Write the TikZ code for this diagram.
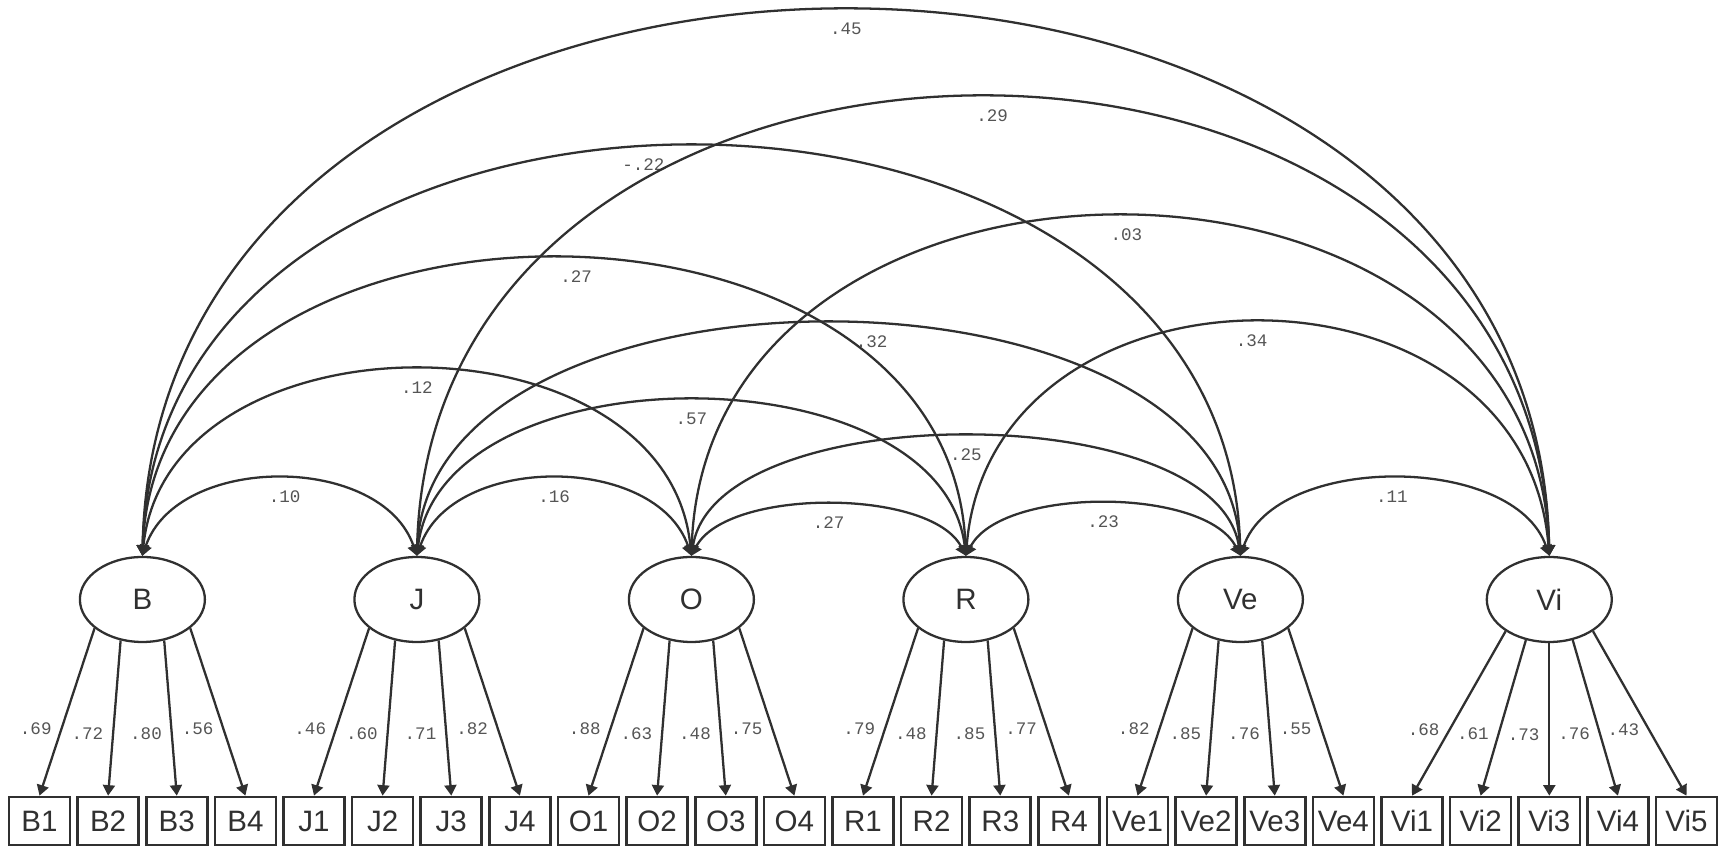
\documentclass[tikz,border=0pt]{standalone}
\usepackage{fontspec}
\setmainfont{Liberation Sans}
\newfontfamily\coeffont{Liberation Mono}
\usetikzlibrary{arrows.meta,shapes.geometric}

\definecolor{edgegray}{HTML}{303030}
\definecolor{coefgray}{HTML}{555555}

\begin{document}
\begin{tikzpicture}
    \tikzstyle{latent} = [ellipse, draw=edgegray, line width=0.65pt, minimum width=1.25cm, minimum height=0.85cm, inner sep=0pt, text=edgegray, font=\fontsize{8.4}{9}\selectfont]
    \tikzstyle{manifest} = [rectangle, draw=edgegray, line width=0.75pt, minimum width=0.61cm, minimum height=0.48cm, inner sep=0pt, text=edgegray, font=\fontsize{8.4}{9}\selectfont]
    \tikzstyle{loading} = [-{Triangle[length=3pt,width=3.4pt]}, draw=edgegray, line width=0.65pt]
    \tikzstyle{cov} = [{Triangle[length=3pt,width=3.4pt]}-{Triangle[length=3pt,width=3.4pt]}, draw=edgegray, line width=0.65pt]
    \tikzstyle{coef} = [inner sep=0pt, text=coefgray, font=\coeffont\fontsize{5}{5}\selectfont]
    \useasboundingbox (0,0) rectangle (17.26,8.52);

    % latent factors
    \node[latent] (B) at (1.424, 2.525) {B};
    \node[latent] (J) at (4.169, 2.525) {J};
    \node[latent] (O) at (6.914, 2.525) {O};
    \node[latent] (R) at (9.659, 2.525) {R};
    \node[latent] (Ve) at (12.404, 2.525) {Ve};
    \node[latent] (Vi) at (15.493, 2.525) {Vi};

    % observed items
    \node[manifest] (B1) at (0.395, 0.31) {B1};
    \node[manifest] (B2) at (1.081, 0.31) {B2};
    \node[manifest] (B3) at (1.768, 0.31) {B3};
    \node[manifest] (B4) at (2.454, 0.31) {B4};
    \node[manifest] (J1) at (3.140, 0.31) {J1};
    \node[manifest] (J2) at (3.826, 0.31) {J2};
    \node[manifest] (J3) at (4.513, 0.31) {J3};
    \node[manifest] (J4) at (5.199, 0.31) {J4};
    \node[manifest] (O1) at (5.885, 0.31) {O1};
    \node[manifest] (O2) at (6.571, 0.31) {O2};
    \node[manifest] (O3) at (7.258, 0.31) {O3};
    \node[manifest] (O4) at (7.944, 0.31) {O4};
    \node[manifest] (R1) at (8.630, 0.31) {R1};
    \node[manifest] (R2) at (9.316, 0.31) {R2};
    \node[manifest] (R3) at (10.003, 0.31) {R3};
    \node[manifest] (R4) at (10.689, 0.31) {R4};
    \node[manifest] (Ve1) at (11.375, 0.31) {Ve1};
    \node[manifest] (Ve2) at (12.061, 0.31) {Ve2};
    \node[manifest] (Ve3) at (12.748, 0.31) {Ve3};
    \node[manifest] (Ve4) at (13.434, 0.31) {Ve4};
    \node[manifest] (Vi1) at (14.120, 0.31) {Vi1};
    \node[manifest] (Vi2) at (14.806, 0.31) {Vi2};
    \node[manifest] (Vi3) at (15.493, 0.31) {Vi3};
    \node[manifest] (Vi4) at (16.179, 0.31) {Vi4};
    \node[manifest] (Vi5) at (16.865, 0.31) {Vi5};

    % loadings
    \draw[loading] (B.211) -- node[coef, pos=0.6, left=2.5pt] {.69} (B1.north);
    \draw[loading] (B.242) -- node[coef, pos=0.6, left=2.5pt] {.72} (B2.north);
    \draw[loading] (B.298) -- node[coef, pos=0.6, left=2.5pt] {.80} (B3.north);
    \draw[loading] (B.329) -- node[coef, pos=0.6, left=2.5pt] {.56} (B4.north);
    \draw[loading] (J.211) -- node[coef, pos=0.6, left=2.5pt] {.46} (J1.north);
    \draw[loading] (J.242) -- node[coef, pos=0.6, left=2.5pt] {.60} (J2.north);
    \draw[loading] (J.298) -- node[coef, pos=0.6, left=2.5pt] {.71} (J3.north);
    \draw[loading] (J.329) -- node[coef, pos=0.6, left=2.5pt] {.82} (J4.north);
    \draw[loading] (O.211) -- node[coef, pos=0.6, left=2.5pt] {.88} (O1.north);
    \draw[loading] (O.242) -- node[coef, pos=0.6, left=2.5pt] {.63} (O2.north);
    \draw[loading] (O.298) -- node[coef, pos=0.6, left=2.5pt] {.48} (O3.north);
    \draw[loading] (O.329) -- node[coef, pos=0.6, left=2.5pt] {.75} (O4.north);
    \draw[loading] (R.211) -- node[coef, pos=0.6, left=2.5pt] {.79} (R1.north);
    \draw[loading] (R.242) -- node[coef, pos=0.6, left=2.5pt] {.48} (R2.north);
    \draw[loading] (R.298) -- node[coef, pos=0.6, left=2.5pt] {.85} (R3.north);
    \draw[loading] (R.329) -- node[coef, pos=0.6, left=2.5pt] {.77} (R4.north);
    \draw[loading] (Ve.211) -- node[coef, pos=0.6, left=2.5pt] {.82} (Ve1.north);
    \draw[loading] (Ve.242) -- node[coef, pos=0.6, left=2.5pt] {.85} (Ve2.north);
    \draw[loading] (Ve.298) -- node[coef, pos=0.6, left=2.5pt] {.76} (Ve3.north);
    \draw[loading] (Ve.329) -- node[coef, pos=0.6, left=2.5pt] {.55} (Ve4.north);
    \draw[loading] (Vi.216) -- node[coef, pos=0.6, left=2.5pt] {.68} (Vi1.north);
    \draw[loading] (Vi.240) -- node[coef, pos=0.6, left=2.5pt] {.61} (Vi2.north);
    \draw[loading] (Vi.270) -- node[coef, pos=0.6, left=2.5pt] {.73} (Vi3.north);
    \draw[loading] (Vi.300) -- node[coef, pos=0.6, left=2.5pt] {.76} (Vi4.north);
    \draw[loading] (Vi.324) -- node[coef, pos=0.6, left=2.5pt] {.43} (Vi5.north);

    % factor covariances
    \draw[cov] (B.north) .. controls +(0.35,1.027) and +(-0.35,1.027) .. node[coef, midway, below=3pt, xshift=0.05cm] {.10} (J.north);
    \draw[cov] (J.north) .. controls +(0.35,1.027) and +(-0.35,1.027) .. node[coef, midway, below=3pt] {.16} (O.north);
    \draw[cov] (O.north) .. controls +(0.35,0.68) and +(-0.35,0.68) .. node[coef, midway, below=3pt] {.27} (R.north);
    \draw[cov] (R.north) .. controls +(0.35,0.693) and +(-0.35,0.693) .. node[coef, midway, below=3pt] {.23} (Ve.north);
    \draw[cov] (Ve.north) .. controls +(0.35,1.027) and +(-0.35,1.027) .. node[coef, midway, below=3pt, xshift=-0.03cm] {.11} (Vi.north);
    \draw[cov] (B.north) .. controls +(0.25,2.48) and +(-0.25,2.48) .. node[coef, midway, below=3pt] {.12} (O.north);
    \draw[cov] (J.north) .. controls +(0.25,2.067) and +(-0.25,2.067) .. node[coef, midway, below=3pt] {.57} (R.north);
    \draw[cov] (O.north) .. controls +(0.25,1.587) and +(-0.25,1.587) .. node[coef, midway, below=3pt] {.25} (Ve.north);
    \draw[cov] (R.north) .. controls +(0.25,3.107) and +(-0.25,3.107) .. node[coef, midway, below=3pt, xshift=-0.06cm] {.34} (Vi.north);
    \draw[cov] (B.north) .. controls +(0.15,3.96) and +(-0.15,3.96) .. node[coef, midway, below=3pt, xshift=0.22cm] {.27} (R.north);
    \draw[cov] (J.north) .. controls +(0.15,3.093) and +(-0.15,3.093) .. node[coef, midway, below=3pt, xshift=0.43cm] {.32} (Ve.north);
    \draw[cov] (O.north) .. controls +(0.15,4.52) and +(-0.15,4.52) .. node[coef, midway, below=3pt, xshift=0.06cm] {.03} (Vi.north);
    \draw[cov] (B.north) .. controls +(0.15,5.453) and +(-0.15,5.453) .. node[coef, midway, below=3pt, xshift=-0.48cm] {-.22} (Ve.north);
    \draw[cov] (J.north) .. controls +(0.15,6.107) and +(-0.15,6.107) .. node[coef, midway, below=3pt, xshift=0.09cm] {.29} (Vi.north);
    \draw[cov] (B.north) .. controls +(0.15,7.267) and +(-0.15,7.267) .. node[coef, midway, below=3pt] {.45} (Vi.north);
\end{tikzpicture}
\end{document}
